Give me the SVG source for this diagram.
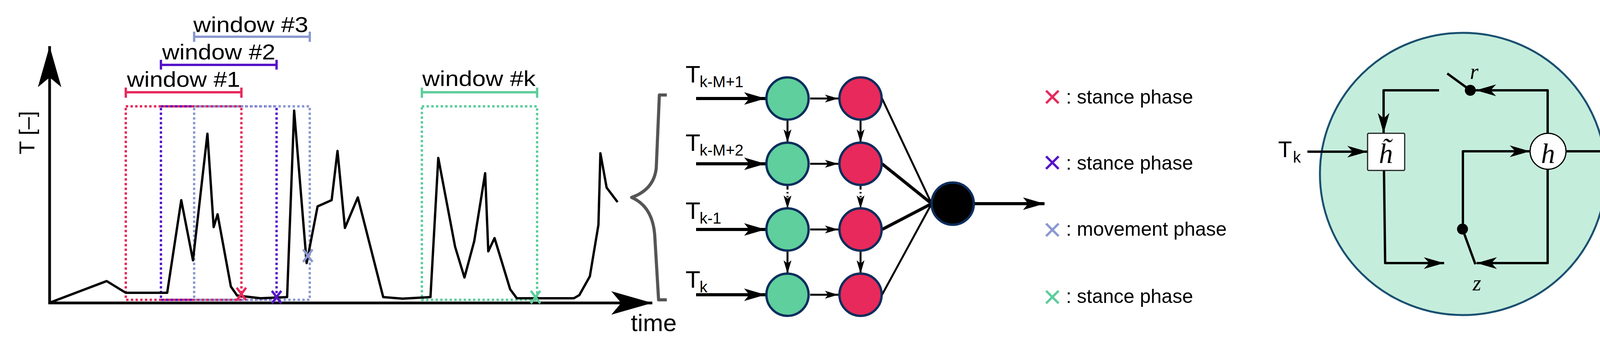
<svg xmlns="http://www.w3.org/2000/svg" width="4310" height="880" viewBox="0 0 4310 880">
<style>
text{font-family:"Liberation Sans",Arial,sans-serif;fill:#000}
.ser{font-family:"Liberation Serif","DejaVu Serif",serif;font-style:italic}
.dot{fill:none;stroke-width:6;stroke-dasharray:6 6}
.bar{fill:none;stroke-width:6}
.ln{stroke:#000;fill:none}
.g{fill:#5ecf9d;stroke:#0c2d5c;stroke-width:6}
.r{fill:#e8295b;stroke:#0c2d5c;stroke-width:6}
.x{stroke-width:6;fill:none}
</style>
<defs>
<marker id="ax" markerUnits="userSpaceOnUse" markerWidth="105" markerHeight="60" refX="105" refY="30" orient="auto"><path d="M105,30 L0,0 L25,30 L0,60 Z" fill="#000"/></marker>
<marker id="big" markerUnits="userSpaceOnUse" markerWidth="55" markerHeight="32" refX="55" refY="16" orient="auto"><path d="M55,16 L0,0 L13,16 L0,32 Z" fill="#000"/></marker>
<marker id="mid" markerUnits="userSpaceOnUse" markerWidth="52" markerHeight="30" refX="52" refY="15" orient="auto"><path d="M52,15 L0,0 L14,15 L0,30 Z" fill="#000"/></marker>
<marker id="sm" markerUnits="userSpaceOnUse" markerWidth="34" markerHeight="20" refX="34" refY="10" orient="auto"><path d="M34,10 L0,0 L8,10 L0,20 Z" fill="#000"/></marker>
</defs>

<g id="plot">
<text transform="translate(88,395) rotate(-90)" font-size="56">T [–]</text>
<text x="1615" y="847" font-size="62">time</text>
<rect class="dot" x="322" y="272" width="296" height="495" stroke="#e8295b"/>
<rect class="dot" x="412" y="272" width="296" height="495" stroke="#5512c9"/>
<rect class="dot" x="497" y="272" width="296" height="495" stroke="#8a98d0"/>
<rect class="dot" x="1080" y="272" width="295" height="495" stroke="#5dcd9b"/>
<g class="bar" stroke="#e8295b"><path d="M322,236 H618 M322,224 V250 M618,224 V250"/></g>
<g class="bar" stroke="#5512c9"><path d="M412,166 H708 M412,153 V178 M708,153 V178"/></g>
<g class="bar" stroke="#8a98d0"><path d="M497,94 H793 M497,81 V107 M793,81 V107"/></g>
<g class="bar" stroke="#5dcd9b"><path d="M1080,236 H1375 M1080,224 V250 M1375,224 V250"/></g>
<text x="325" y="222" font-size="56" textLength="290" lengthAdjust="spacingAndGlyphs">window #1</text>
<text x="415" y="152" font-size="56" textLength="290" lengthAdjust="spacingAndGlyphs">window #2</text>
<text x="495" y="82" font-size="56" textLength="294" lengthAdjust="spacingAndGlyphs">window #3</text>
<text x="1081" y="220" font-size="56" textLength="290" lengthAdjust="spacingAndGlyphs">window #k</text>
<polyline class="ln" stroke-width="6" stroke-linejoin="round" points="128,774 273,719 322,749 428,749 464,512 494,666 531,342 547,581 557,548 591,733 607,756 667,763 735,760 753,283 785,673 813,528 849,512 864,386 883,583 916,505 981,760 1030,764 1102,760 1122,404 1165,631 1189,710 1214,617 1242,443 1250,643 1266,609 1306,740 1323,763 1469,763 1483,755 1510,707 1532,575 1537,392 1553,480 1581,517"/>
<line class="ln" stroke-width="7" x1="127" y1="778" x2="127" y2="118" marker-end="url(#ax)"/>
<line class="ln" stroke-width="7" x1="124" y1="775" x2="1670" y2="775" marker-end="url(#ax)"/>
<path class="x" stroke="#e8295b" d="M606,736 L630,768 M630,736 L606,768"/>
<path class="x" stroke="#5512c9" d="M696,744 L720,776 M720,744 L696,776"/>
<path class="x" stroke="#8a98d0" d="M776,638 L800,670 M800,638 L776,670"/>
<path class="x" stroke="#5dcd9b" d="M1359,744 L1383,776 M1383,744 L1359,776"/>
<path d="M1707,243 L1688,243 L1680,430 Q1674,485 1617,505 Q1670,528 1676,600 L1686,767 L1707,767" fill="none" stroke="#555" stroke-width="8" stroke-linejoin="round"/>
</g>

<g id="inputs">
<text x="1755" y="211" font-size="62">T</text><text x="1791" y="223" font-size="40">k-M+1</text>
<text x="1755" y="386" font-size="62">T</text><text x="1791" y="398" font-size="40">k-M+2</text>
<text x="1755" y="560" font-size="62">T</text><text x="1791" y="572" font-size="40">k-1</text>
<text x="1755" y="736" font-size="62">T</text><text x="1791" y="748" font-size="40">k</text>
</g>

<g id="connectors">
<g class="ln" stroke-width="8">
<line x1="1782" y1="252" x2="1960" y2="252" marker-end="url(#big)"/>
<line x1="1782" y1="419" x2="1960" y2="419" marker-end="url(#big)"/>
<line x1="1782" y1="587" x2="1960" y2="587" marker-end="url(#big)"/>
<line x1="1782" y1="754" x2="1960" y2="754" marker-end="url(#big)"/>
<line x1="2495" y1="521" x2="2674" y2="521" marker-end="url(#big)"/>
</g>
<g class="ln" stroke-width="5">
<line x1="2074" y1="252" x2="2146" y2="252" marker-end="url(#sm)"/>
<line x1="2074" y1="419" x2="2146" y2="419" marker-end="url(#sm)"/>
<line x1="2074" y1="587" x2="2146" y2="587" marker-end="url(#sm)"/>
<line x1="2074" y1="754" x2="2146" y2="754" marker-end="url(#sm)"/>
<line x1="2016" y1="306" x2="2016" y2="365" marker-end="url(#sm)"/>
<line x1="2203" y1="306" x2="2203" y2="365" marker-end="url(#sm)"/>
<line x1="2016" y1="640" x2="2016" y2="700" marker-end="url(#sm)"/>
<line x1="2203" y1="640" x2="2203" y2="700" marker-end="url(#sm)"/>
<line x1="2016" y1="473" x2="2016" y2="534" stroke-dasharray="12 6 4 6 4 6" marker-end="url(#sm)"/>
<line x1="2203" y1="473" x2="2203" y2="534" stroke-dasharray="12 6 4 6 4 6" marker-end="url(#sm)"/>
<line x1="2258" y1="252" x2="2385" y2="521"/>
<line x1="2258" y1="754" x2="2385" y2="521"/>
</g>
<g class="ln" stroke-width="8">
<line x1="2258" y1="419" x2="2385" y2="521"/>
<line x1="2258" y1="587" x2="2385" y2="521"/>
</g>
</g>

<g id="nodes">
<circle class="g" cx="2016" cy="252" r="54"/><circle class="r" cx="2203" cy="252" r="54"/>
<circle class="g" cx="2016" cy="419" r="54"/><circle class="r" cx="2203" cy="419" r="54"/>
<circle class="g" cx="2016" cy="587" r="54"/><circle class="r" cx="2203" cy="587" r="54"/>
<circle class="g" cx="2016" cy="754" r="54"/><circle class="r" cx="2203" cy="754" r="54"/>
<circle cx="2439" cy="521" r="54" fill="#000" stroke="#0c2d5c" stroke-width="6"/>
</g>

<g id="legend">
<path class="x" stroke="#e8295b" d="M2678,232 L2710,264 M2710,232 L2678,264"/>
<path class="x" stroke="#5512c9" d="M2678,400 L2710,432 M2710,400 L2678,432"/>
<path class="x" stroke="#8a98d0" d="M2678,572 L2710,604 M2710,572 L2678,604"/>
<path class="x" stroke="#5dcd9b" d="M2678,744 L2710,776 M2710,744 L2678,776"/>
<text x="2729" y="265" font-size="50">: stance phase</text>
<text x="2729" y="434" font-size="50">: stance phase</text>
<text x="2729" y="603" font-size="50">: movement phase</text>
<text x="2729" y="775" font-size="50">: stance phase</text>
</g>

<g id="gru">
<ellipse cx="3745" cy="445" rx="366" ry="361" fill="#c5eddc" stroke="#1a5070" stroke-width="5"/>
<text x="3272" y="402" font-size="58">T</text><text x="3310" y="416" font-size="40">k</text>
<g class="ln" stroke-width="6" stroke-linejoin="round">
<line x1="3347" y1="388" x2="3501" y2="388" marker-end="url(#mid)"/>
<path d="M3684,231 H3542 V341" marker-end="url(#mid)"/>
<path d="M3962,341 V231 H3778" marker-end="url(#mid)"/>
<line x1="3705" y1="188" x2="3764" y2="231"/>
<path d="M3745,586 V387 H3917" marker-end="url(#mid)"/>
<line x1="3744" y1="586" x2="3777" y2="676"/>
<path d="M3962,433 V673 H3780" marker-end="url(#mid)"/>
<path d="M3543,436 L3546,673 H3697" marker-end="url(#mid)"/>
<line x1="4009" y1="387" x2="4199" y2="387" marker-end="url(#mid)"/>
</g>
<circle cx="3764" cy="231" r="14" fill="#000"/>
<circle cx="3744" cy="586" r="14" fill="#000"/>
<rect x="3501" y="341" width="95" height="95" rx="3" fill="#fff" stroke="#222" stroke-width="3"/>
<text class="ser" x="3548" y="417" font-size="72" text-anchor="middle">h̃</text>
<circle cx="3963" cy="387" r="46" fill="#fff" stroke="#000" stroke-width="3"/>
<text class="ser" x="3963" y="417" font-size="72" text-anchor="middle">h</text>
<text class="ser" x="3774" y="202" font-size="56" text-anchor="middle">r</text>
<text class="ser" x="3781" y="743" font-size="56" text-anchor="middle">z</text>
<text x="4205" y="406" font-size="54">out</text>
</g>
</svg>
